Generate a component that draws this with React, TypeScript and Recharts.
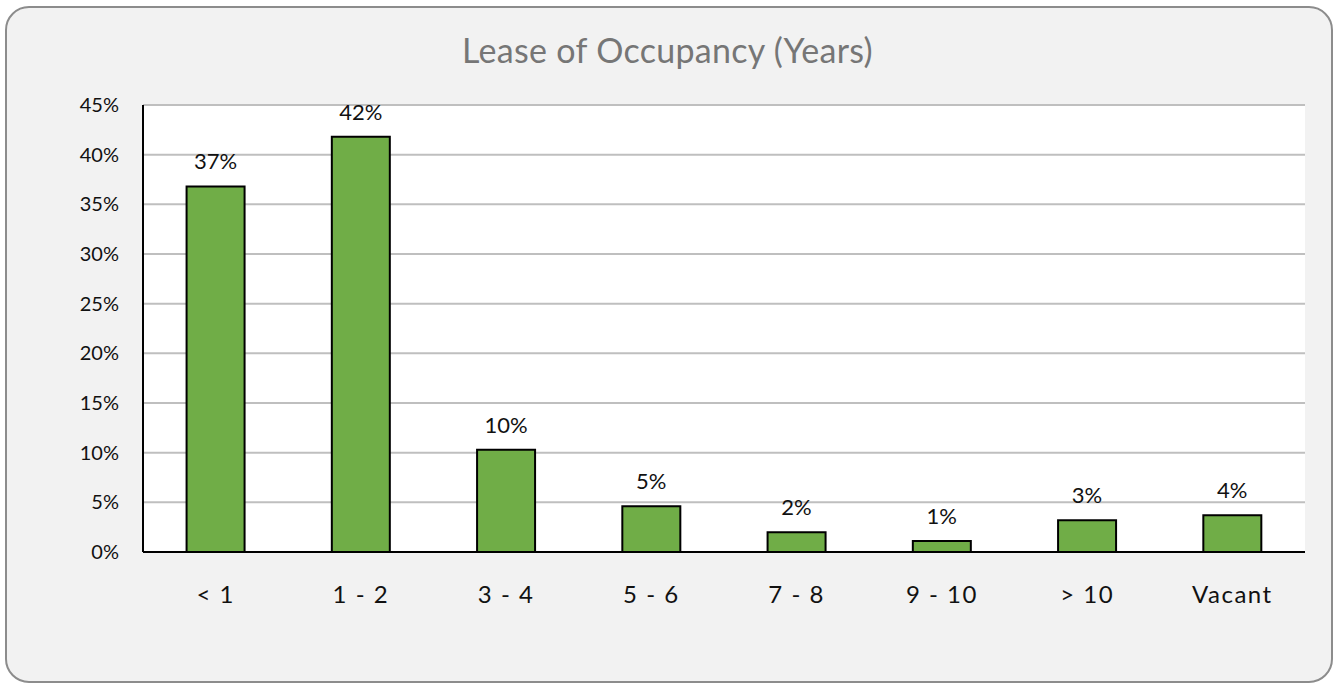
import { BarChart, Bar, XAxis, YAxis, CartesianGrid, LabelList } from 'recharts';

const categories = ['< 1', '1 - 2', '3 - 4', '5 - 6', '7 - 8', '9 - 10', '> 10', 'Vacant'];
const shares = [36.8, 41.8, 10.3, 4.6, 2.0, 1.1, 3.2, 3.7];
const yTicks = [0, 5, 10, 15, 20, 25, 30, 35, 40, 45];

const data = categories.map((name, i) => ({ name, value: shares[i] }));

const FONT = 'Lato, "Open Sans", sans-serif';

export default function App() {
  return (
    <div style={{ position: 'absolute', left: 0, top: 0, width: 1335, height: 685, fontFamily: FONT }}>
      {/* card background */}
      <div
        style={{
          position: 'absolute',
          left: 5,
          top: 6,
          width: 1328,
          height: 677,
          boxSizing: 'border-box',
          border: '2px solid #8c8c8c',
          borderRadius: 24,
          background: '#f2f2f2',
        }}
      />
      <div
        style={{
          position: 'absolute',
          left: 0,
          width: 1335,
          top: 29,
          textAlign: 'center',
          fontSize: 34,
          color: '#767676',
          lineHeight: '42px',
          letterSpacing: 0.3,
        }}
      >
        Lease of Occupancy (Years)
      </div>
      <div style={{ position: 'absolute', left: 0, top: 0 }}>
        <BarChart
          width={1335}
          height={685}
          data={data}
          margin={{ top: 105, right: 30, bottom: 93, left: 83 }}
          barCategoryGap="30%"
        >
          <CartesianGrid vertical={false} stroke="#bfbfbf" strokeWidth={2} fill="#ffffff" />
          <XAxis
            dataKey="name"
            axisLine={{ stroke: '#000', strokeWidth: 2 }}
            tickLine={false}
            tickSize={0}
            tickMargin={34}
            height={40}
            interval={0}
            tick={{ fill: '#111', fontSize: 24, fontFamily: FONT, letterSpacing: 1.5 }}
          />
          <YAxis
            domain={[0, 45]}
            ticks={yTicks}
            interval={0}
            width={60}
            axisLine={{ stroke: '#000', strokeWidth: 2 }}
            tickLine={false}
            tickSize={0}
            tickMargin={24}
            tickFormatter={(v: number) => `${v}%`}
            tick={{ fill: '#111', fontSize: 20, fontFamily: FONT }}
          />
          <Bar dataKey="value" fill="#70ad47" stroke="#000" strokeWidth={2} isAnimationActive={false}>
            <LabelList
              dataKey="value"
              position="top"
              offset={17}
              formatter={(v: number) => `${Math.round(v)}%`}
              style={{ fill: '#111', fontSize: 22, fontFamily: FONT }}
            />
          </Bar>
        </BarChart>
      </div>
    </div>
  );
}
